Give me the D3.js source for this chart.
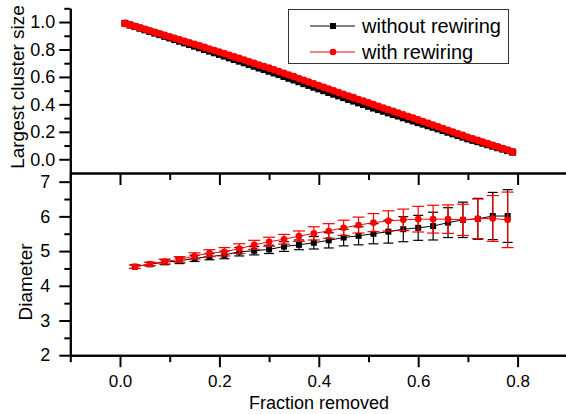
<!doctype html>
<html lang="en">
<head>
  <meta charset="utf-8">
  <title>Largest cluster size and diameter vs fraction removed</title>
  <style>
    body { margin: 0; background: #fff; }
    svg { display: block; font-family: 'Liberation Sans', Arial, sans-serif; }
  </style>
</head>
<body>
  <script src="https://cdn.jsdelivr.net/npm/d3@7"></script>
  <script>
    // top panel: fraction removed vs largest cluster size
    const fracTop = [0.01, 0.02, 0.03, 0.04, 0.05, 0.06, 0.07, 0.08, 0.09, 0.10,
                     0.11, 0.12, 0.13, 0.14, 0.15, 0.16, 0.17, 0.18, 0.19, 0.20,
                     0.21, 0.22, 0.23, 0.24, 0.25, 0.26, 0.27, 0.28, 0.29, 0.30,
                     0.31, 0.32, 0.33, 0.34, 0.35, 0.36, 0.37, 0.38, 0.39, 0.40,
                     0.41, 0.42, 0.43, 0.44, 0.45, 0.46, 0.47, 0.48, 0.49, 0.50,
                     0.51, 0.52, 0.53, 0.54, 0.55, 0.56, 0.57, 0.58, 0.59, 0.60,
                     0.61, 0.62, 0.63, 0.64, 0.65, 0.66, 0.67, 0.68, 0.69, 0.70,
                     0.71, 0.72, 0.73, 0.74, 0.75, 0.76, 0.77, 0.78, 0.79];
    const sizeNo = [0.990, 0.978, 0.967, 0.955, 0.943, 0.931, 0.919, 0.908, 0.896, 0.884,
                    0.872, 0.860, 0.848, 0.836, 0.824, 0.812, 0.800, 0.788, 0.776, 0.764,
                    0.752, 0.739, 0.727, 0.715, 0.703, 0.690, 0.678, 0.665, 0.654, 0.641,
                    0.629, 0.617, 0.603, 0.590, 0.578, 0.565, 0.551, 0.538, 0.525, 0.513,
                    0.500, 0.487, 0.474, 0.462, 0.449, 0.436, 0.424, 0.411, 0.399, 0.386,
                    0.373, 0.362, 0.350, 0.338, 0.326, 0.315, 0.302, 0.291, 0.279, 0.267,
                    0.256, 0.244, 0.233, 0.221, 0.209, 0.197, 0.185, 0.173, 0.161, 0.149,
                    0.138, 0.128, 0.117, 0.106, 0.095, 0.084, 0.074, 0.063, 0.052];
    const sizeRw = [0.990, 0.979, 0.969, 0.958, 0.947, 0.936, 0.925, 0.915, 0.904, 0.893,
                    0.882, 0.871, 0.860, 0.849, 0.838, 0.827, 0.815, 0.804, 0.793, 0.782,
                    0.770, 0.758, 0.746, 0.735, 0.723, 0.711, 0.699, 0.687, 0.676, 0.664,
                    0.652, 0.640, 0.627, 0.614, 0.602, 0.589, 0.576, 0.563, 0.550, 0.538,
                    0.525, 0.512, 0.499, 0.487, 0.474, 0.461, 0.449, 0.436, 0.424, 0.411,
                    0.398, 0.386, 0.374, 0.361, 0.349, 0.337, 0.324, 0.312, 0.300, 0.287,
                    0.275, 0.262, 0.250, 0.237, 0.224, 0.212, 0.199, 0.186, 0.174, 0.161,
                    0.149, 0.138, 0.126, 0.114, 0.102, 0.090, 0.079, 0.067, 0.055];

    // bottom panel: fraction removed vs diameter (with error bars)
    const fracBottom = [0.03, 0.06, 0.09, 0.12, 0.15, 0.18, 0.21, 0.24, 0.27, 0.30,
                        0.33, 0.36, 0.39, 0.42, 0.45, 0.48, 0.51, 0.54, 0.57, 0.60,
                        0.63, 0.66, 0.69, 0.72, 0.75, 0.78];
    const diamNo = [4.55, 4.62, 4.68, 4.72, 4.79, 4.84, 4.89, 4.98, 5.01, 5.05,
                    5.13, 5.18, 5.24, 5.31, 5.39, 5.44, 5.50, 5.56, 5.63, 5.67,
                    5.72, 5.82, 5.90, 5.93, 6.01, 6.01];
    const diamRw = [4.55, 4.63, 4.70, 4.76, 4.86, 4.94, 4.98, 5.07, 5.18, 5.27,
                    5.34, 5.43, 5.51, 5.58, 5.67, 5.75, 5.82, 5.87, 5.90, 5.92,
                    5.92, 5.92, 5.90, 5.93, 5.94, 5.90];
    const errNo = [0.05, 0.05, 0.07, 0.08, 0.09, 0.09, 0.11, 0.12, 0.12, 0.12,
                   0.14, 0.14, 0.18, 0.22, 0.24, 0.26, 0.29, 0.33, 0.36, 0.36,
                   0.40, 0.43, 0.51, 0.59, 0.68, 0.76];
    const errRw = [0.05, 0.05, 0.07, 0.08, 0.09, 0.10, 0.12, 0.14, 0.13, 0.13,
                   0.14, 0.15, 0.19, 0.21, 0.22, 0.23, 0.26, 0.29, 0.31, 0.37,
                   0.40, 0.41, 0.45, 0.57, 0.66, 0.80];

    const seriesNames = ['without rewiring', 'with rewiring'];
    const xMajor = [0, 0.2, 0.4, 0.6, 0.8];
    const xMinor = [-0.1, 0.1, 0.3, 0.5, 0.7, 0.9];
    const topMajor = [0, 0.2, 0.4, 0.6, 0.8, 1.0];
    const topMinor = [0.1, 0.3, 0.5, 0.7, 0.9, 1.1];
    const botMajor = [2, 3, 4, 5, 6, 7];
    const botMinor = [2.5, 3.5, 4.5, 5.5, 6.5];

    const w = 566;
    const h = 414;

    const svg = d3.select('body')
                  .append('svg')
                  .attr('width', w)
                  .attr('height', h);

    const x = d3.scaleLinear().domain([-0.1, 0.9]).range([70.3, 567.3]);
    const yTop = d3.scaleLinear().domain([-0.1, 1.1]).range([173, 8.3]);
    const yBot = d3.scaleLinear().domain([2, 7.25]).range([355.2, 173]);

    const styleAxis = (g) => {
      g.selectAll('path, line').attr('stroke', '#000').attr('stroke-width', 2);
      g.selectAll('text').attr('fill', '#000');
    };

    // ---- series drawing helpers
    const drawLine = (xs, ys, yScale, color) => {
      svg.append('path')
         .datum(xs.map((d, i) => [d, ys[i]]))
         .attr('fill', 'none')
         .attr('stroke', color)
         .attr('stroke-width', 1)
         .attr('d', d3.line().x((d) => x(d[0])).y((d) => yScale(d[1])));
    };

    const drawMarkers = (xs, ys, yScale, color, shape, s) => {
      const pts = xs.map((d, i) => [d, ys[i]]);
      if (shape === 'square') {
        svg.append('g').selectAll('rect')
           .data(pts).enter().append('rect')
           .attr('x', (d) => x(d[0]) - s / 2)
           .attr('y', (d) => yScale(d[1]) - s / 2)
           .attr('width', s)
           .attr('height', s)
           .attr('fill', color);
      } else {
        svg.append('g').selectAll('circle')
           .data(pts).enter().append('circle')
           .attr('cx', (d) => x(d[0]))
           .attr('cy', (d) => yScale(d[1]))
           .attr('r', s / 2 + 0.3)
           .attr('fill', color);
      }
    };

    const drawErrors = (xs, ys, es, color, cap) => {
      const g = svg.append('g').attr('stroke', color).attr('stroke-width', 1.2);
      xs.forEach((d, i) => {
        const cx = x(d);
        const lo = yBot(ys[i] - es[i]);
        const hi = yBot(ys[i] + es[i]);
        g.append('line').attr('x1', cx).attr('x2', cx).attr('y1', lo).attr('y2', hi);
        g.append('line').attr('x1', cx - cap).attr('x2', cx + cap).attr('y1', lo).attr('y2', lo);
        g.append('line').attr('x1', cx - cap).attr('x2', cx + cap).attr('y1', hi).attr('y2', hi);
      });
    };

    // ---- top panel
    drawLine(fracTop, sizeNo, yTop, '#000');
    drawMarkers(fracTop, sizeNo, yTop, '#000', 'square', 7);
    drawLine(fracTop, sizeRw, yTop, '#ff0000');
    drawMarkers(fracTop, sizeRw, yTop, '#ff0000', 'circle', 7);

    // ---- bottom panel
    drawErrors(fracBottom, diamNo, errNo, '#000', 5);
    drawLine(fracBottom, diamNo, yBot, '#000');
    drawMarkers(fracBottom, diamNo, yBot, '#000', 'square', 6);
    drawErrors(fracBottom, diamRw, errRw, '#ff0000', 6);
    drawLine(fracBottom, diamRw, yBot, '#ff0000');
    drawMarkers(fracBottom, diamRw, yBot, '#ff0000', 'circle', 6);

    // ---- axes
    // top panel left axis
    svg.append('g')
       .attr('transform', 'translate(70.3, 0)')
       .call(d3.axisLeft(yTop).tickValues(topMinor).tickSize(6).tickSizeOuter(0).tickFormat(''))
       .call(styleAxis);
    svg.append('g')
       .attr('transform', 'translate(70.3, 0)')
       .call(d3.axisLeft(yTop).tickValues(topMajor).tickSize(11).tickSizeOuter(0)
               .tickPadding(4).tickFormat(d3.format('.1f')))
       .call(styleAxis)
       .selectAll('text').attr('font-size', 18);

    // bottom panel left axis
    svg.append('g')
       .attr('transform', 'translate(70.3, 0)')
       .call(d3.axisLeft(yBot).tickValues(botMinor).tickSize(6).tickSizeOuter(0).tickFormat(''))
       .call(styleAxis);
    svg.append('g')
       .attr('transform', 'translate(70.3, 0)')
       .call(d3.axisLeft(yBot).tickValues(botMajor).tickSize(11).tickSizeOuter(0)
               .tickPadding(9).tickFormat(d3.format('d')))
       .call(styleAxis)
       .selectAll('text').attr('font-size', 18);

    // shared middle axis (ticks pointing down)
    svg.append('g')
       .attr('transform', `translate(0, ${yTop(-0.1)})`)
       .call(d3.axisBottom(x).tickValues(xMinor).tickSize(7).tickSizeOuter(0).tickFormat(''))
       .call(styleAxis);
    svg.append('g')
       .attr('transform', `translate(0, ${yTop(-0.1)})`)
       .call(d3.axisBottom(x).tickValues(xMajor).tickSize(12).tickSizeOuter(0).tickFormat(''))
       .call(styleAxis);

    // bottom x axis
    svg.append('g')
       .attr('transform', `translate(0, ${yBot(2)})`)
       .call(d3.axisBottom(x).tickValues(xMinor).tickSize(7).tickSizeOuter(0).tickFormat(''))
       .call(styleAxis);
    svg.append('g')
       .attr('transform', `translate(0, ${yBot(2)})`)
       .call(d3.axisBottom(x).tickValues(xMajor).tickSize(12).tickSizeOuter(0)
               .tickPadding(8).tickFormat(d3.format('.1f')))
       .call(styleAxis)
       .selectAll('text').attr('font-size', 17);

    // ---- axis titles
    svg.append('text')
       .attr('transform', 'translate(24, 87) rotate(-90)')
       .attr('text-anchor', 'middle')
       .attr('font-size', 19)
       .text('Largest cluster size');

    svg.append('text')
       .attr('transform', 'translate(32, 282) rotate(-90)')
       .attr('text-anchor', 'middle')
       .attr('font-size', 19)
       .text('Diameter');

    svg.append('text')
       .attr('x', 319)
       .attr('y', 409)
       .attr('text-anchor', 'middle')
       .attr('font-size', 18)
       .text('Fraction removed');

    // ---- legend
    const legend = svg.append('g');
    legend.append('rect')
          .attr('x', 288.5).attr('y', 9.5)
          .attr('width', 220).attr('height', 54)
          .attr('fill', '#fff')
          .attr('stroke', '#333')
          .attr('stroke-width', 1);

    const legendRows = [
      { name: seriesNames[0], color: '#000', shape: 'square', y: 26 },
      { name: seriesNames[1], color: '#ff0000', shape: 'circle', y: 52 }
    ];
    legendRows.forEach((r) => {
      legend.append('line')
            .attr('x1', 310).attr('x2', 355)
            .attr('y1', r.y).attr('y2', r.y)
            .attr('stroke', r.color).attr('stroke-width', 1);
      if (r.shape === 'square') {
        legend.append('rect')
              .attr('x', 330).attr('y', r.y - 3)
              .attr('width', 6).attr('height', 6)
              .attr('fill', r.color);
      } else {
        legend.append('circle')
              .attr('cx', 333).attr('cy', r.y).attr('r', 3.3)
              .attr('fill', r.color);
      }
      legend.append('text')
            .attr('x', 362).attr('y', r.y + 7)
            .attr('font-size', 20)
            .text(r.name);
    });
  </script>
</body>
</html>
